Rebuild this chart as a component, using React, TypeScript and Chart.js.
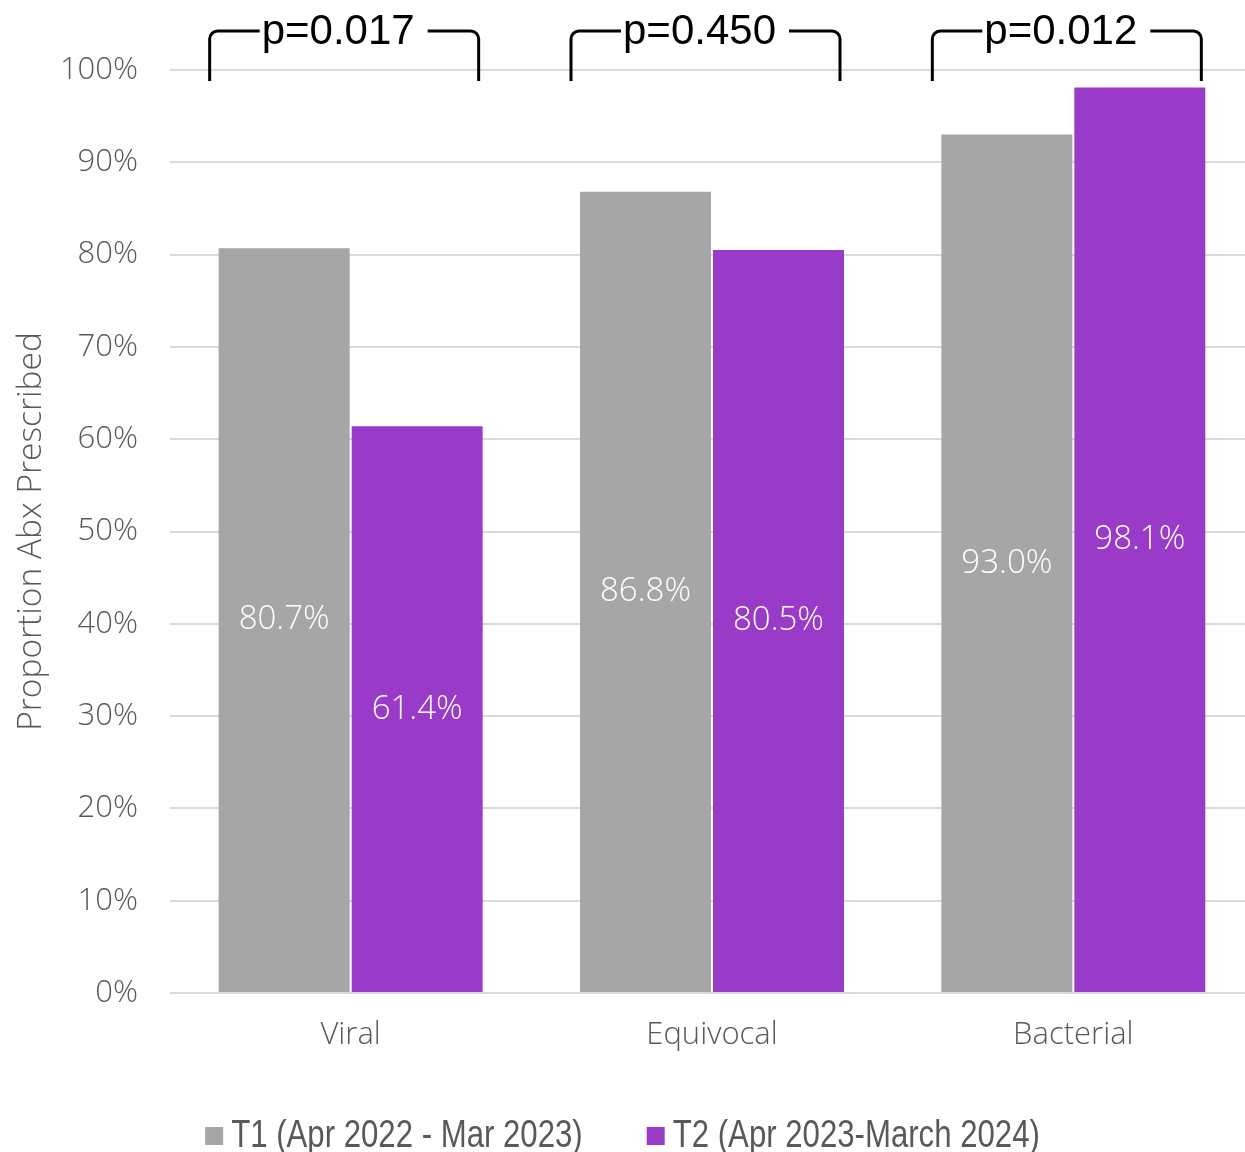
import { useEffect, useRef } from 'react';
import { Chart, registerables } from 'chart.js';

Chart.register(...registerables);

const categories = ['Viral', 'Equivocal', 'Bacterial'];
const seriesLabels = ['T1 (Apr 2022 - Mar 2023)', 'T2 (Apr 2023-March 2024)'];
const t1Values = [80.7, 86.8, 93.0];
const t2Values = [61.4, 80.5, 98.1];
const pValues = ['p=0.017', 'p=0.450', 'p=0.012'];
const yAxisTitle = 'Proportion Abx Prescribed';

const GRAY = '#a6a6a6';
const PURPLE = '#993bc8';
const TEXT = '#595959';
const FONT = "'Open Sans', 'Liberation Sans', sans-serif";
const LEGEND_FONT = "'Liberation Sans', Arial, sans-serif";
const P_FONT = "'Liberation Sans', Arial, sans-serif";
const VIEW_W = 1245;

const dataLabelPlugin = {
  id: 'dataLabels',
  afterDatasetsDraw(chart: any) {
    const ctx = chart.ctx;
    ctx.save();
    ctx.fillStyle = '#ffffff';
    ctx.font = `300 33px ${FONT}`;
    ctx.textAlign = 'center';
    ctx.textBaseline = 'middle';
    chart.data.datasets.forEach((ds: any, di: number) => {
      const meta = chart.getDatasetMeta(di);
      meta.data.forEach((el: any, i: number) => {
        const y = (el.y + el.base) / 2;
        ctx.fillText(Number(ds.data[i]).toFixed(1) + '%', el.x, y);
      });
    });
    ctx.restore();
  },
};

const bracketPlugin = {
  id: 'brackets',
  afterDraw(chart: any) {
    const ctx = chart.ctx;
    const xs = chart.scales.x;
    ctx.save();
    ctx.strokeStyle = '#000000';
    ctx.fillStyle = '#000000';
    ctx.lineWidth = 3;
    ctx.font = `42px ${P_FONT}`;
    ctx.textAlign = 'center';
    ctx.textBaseline = 'middle';
    const top = 31;
    const bottom = 81;
    const r = 8;
    pValues.forEach((p, i) => {
      const cx = xs.getPixelForValue(i);
      const left = cx - 141;
      const right = cx + 128;
      const w = ctx.measureText(p).width;
      const tx = (left + right) / 2 - 6;
      ctx.beginPath();
      ctx.moveTo(left, bottom);
      ctx.lineTo(left, top + r);
      ctx.arcTo(left, top, left + r, top, r);
      ctx.lineTo(tx - w / 2 - 2, top);
      ctx.stroke();
      ctx.beginPath();
      ctx.moveTo(tx + w / 2 + 13, top);
      ctx.lineTo(right - r, top);
      ctx.arcTo(right, top, right, top + r, r);
      ctx.lineTo(right, bottom);
      ctx.stroke();
      ctx.fillText(p, tx, top + 1);
    });
    ctx.restore();
  },
};

const legendPlugin = {
  id: 'customLegend',
  afterDraw(chart: any) {
    const ctx = chart.ctx;
    ctx.save();
    ctx.font = `38px ${LEGEND_FONT}`;
    ctx.textBaseline = 'middle';
    ctx.textAlign = 'left';
    const sx = 0.82;
    const box = 18;
    const gap = 8;
    const itemGap = 64;
    const items = chart.data.datasets.map((ds: any) => ({
      text: ds.label,
      color: ds.backgroundColor,
      tw: ctx.measureText(ds.label).width * sx,
    }));
    items.forEach((it: any) => (it.w = box + gap + it.tw));
    const total = items.reduce((s: number, it: any) => s + it.w, 0) + itemGap * (items.length - 1);
    let x = (VIEW_W - total) / 2;
    const cy = 1136;
    items.forEach((it: any) => {
      ctx.fillStyle = it.color;
      ctx.fillRect(x, cy - box / 2, box, box);
      ctx.fillStyle = TEXT;
      ctx.save();
      ctx.translate(x + box + gap, cy + 1);
      ctx.scale(sx, 1);
      ctx.fillText(it.text, 0, 0);
      ctx.restore();
      x += it.w + itemGap;
    });
    ctx.restore();
  },
};

export default function App() {
  const ref = useRef<HTMLCanvasElement | null>(null);

  useEffect(() => {
    if (!ref.current) return;
    const chart = new Chart(ref.current, {
      type: 'bar',
      data: {
        labels: categories,
        datasets: [
          {
            label: seriesLabels[0],
            data: t1Values,
            backgroundColor: GRAY,
            barPercentage: 0.985,
            categoryPercentage: 0.736,
          },
          {
            label: seriesLabels[1],
            data: t2Values,
            backgroundColor: PURPLE,
            barPercentage: 0.985,
            categoryPercentage: 0.736,
          },
        ],
      },
      options: {
        responsive: false,
        animation: false,
        devicePixelRatio: 1,
        layout: { padding: { top: 70, left: 0, right: 0, bottom: 0 } },
        plugins: {
          legend: { display: false },
          tooltip: { enabled: false },
        },
        scales: {
          x: {
            grid: { display: false, drawTicks: false },
            border: { display: false },
            ticks: { color: TEXT, font: { family: FONT, size: 31, weight: '300' as any }, padding: 24 },
            afterFit: (s: any) => {
              s.height = 159;
            },
          },
          y: {
            min: 0,
            max: 100,
            ticks: {
              stepSize: 10,
              color: TEXT,
              font: { family: FONT, size: 31, weight: '300' as any },
              padding: 32,
              callback: (v: any) => v + '%',
            },
            grid: { color: '#d9d9d9', lineWidth: 2, drawTicks: false },
            border: { display: false },
            title: {
              display: true,
              text: yAxisTitle,
              color: TEXT,
              font: { family: FONT, size: 33.5, weight: '300' as any },
              padding: { top: 11, bottom: 0 },
            },
            afterFit: (s: any) => {
              s.width = 170;
            },
          },
        },
      },
      plugins: [dataLabelPlugin, bracketPlugin, legendPlugin],
    });
    return () => chart.destroy();
  }, []);

  return (
    <div style={{ position: 'absolute', left: 0, top: 0, width: VIEW_W, height: 1152, overflow: 'hidden', background: '#fff' }}>
      <canvas ref={ref} width={1254} height={1152} style={{ display: 'block' }} />
    </div>
  );
}
